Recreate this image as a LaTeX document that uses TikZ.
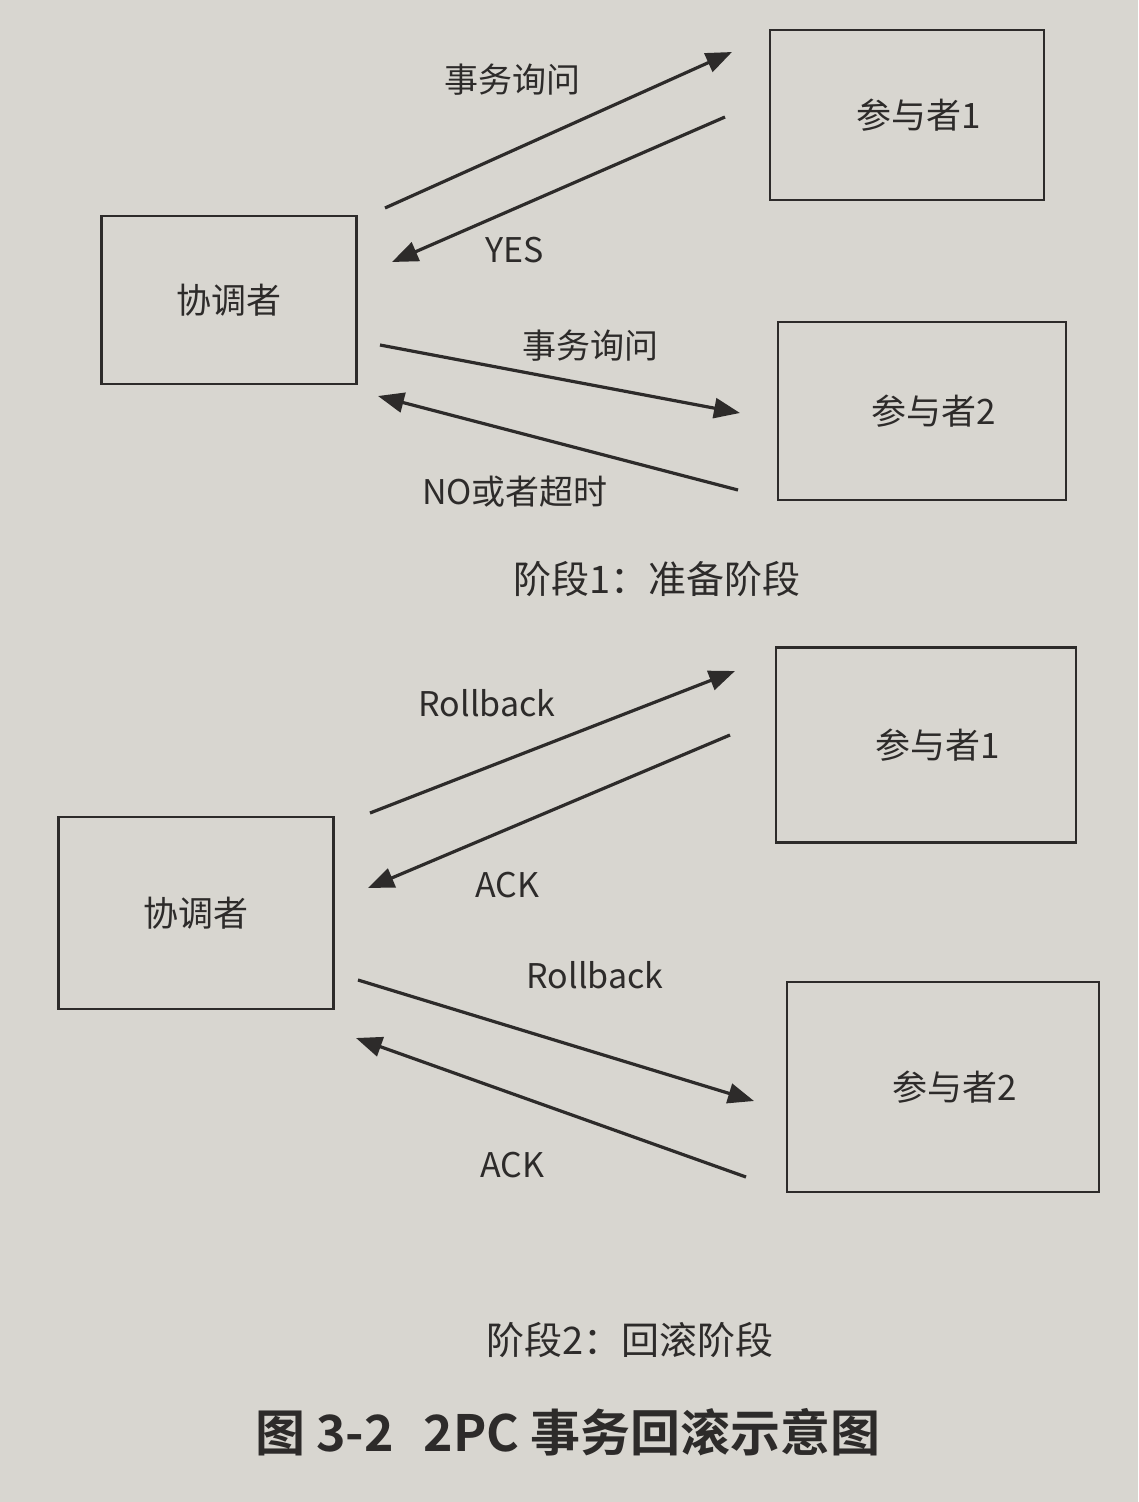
\documentclass[tikz,border=0pt]{standalone}
\usepackage{fontspec}
\setmainfont{Noto Sans CJK SC}
\newfontfamily\cjkbold{Noto Sans CJK SC}[BoldFont={* Bold}]
\usetikzlibrary{arrows.meta}
\definecolor{paper}{RGB}{216,214,208}
\definecolor{ink}{RGB}{45,43,42}
\tikzset{
  party/.style={draw=ink, line width=2.8pt},
  msg/.style={draw=ink, line width=3.2pt, -{Triangle[length=26pt,width=20pt]}},
  lbl/.style={text=ink, font=\fontsize{34}{38}\selectfont, inner sep=0pt},
  boxtext/.style={text=ink, font=\fontsize{35}{40}\selectfont, inner sep=0pt},
  phase/.style={text=ink, font=\fontsize{38}{42}\selectfont, inner sep=0pt},
}
\begin{document}
\begin{tikzpicture}[x=1pt,y=-1pt]
\fill[paper] (0,0) rectangle (1138,1502);
\useasboundingbox (0,0) rectangle (1138,1502);

% ---------- phase 1: prepare ----------
\node[party, minimum width=255pt, minimum height=168pt] (c1) at (229,300) {};
\node[boxtext] at (c1.center) {协调者};
\node[party, minimum width=274pt, minimum height=170pt] (p11) at (907,115) {};
\node[boxtext] at ([xshift=12pt]p11.center) {参与者1};
\node[party, minimum width=288pt, minimum height=178pt] (p12) at (922,411) {};
\node[boxtext] at ([xshift=12pt]p12.center) {参与者2};

\coordinate (a1s) at (385,208);  \coordinate (a1e) at (732,52);
\coordinate (a2s) at (725,117);  \coordinate (a2e) at (392,262);
\coordinate (a3s) at (380,345);  \coordinate (a3e) at (740,413);
\coordinate (a4s) at (738,490);  \coordinate (a4e) at (378,396);
\draw[msg] (a1s) -- (a1e);
\draw[msg] (a2s) -- (a2e);
\draw[msg] (a3s) -- (a3e);
\draw[msg] (a4s) -- (a4e);
\node[lbl] (l1) at (512,80) {事务询问};
\node[lbl] (l2) at (515,250) {YES};
\node[lbl] (l3) at (590,346) {事务询问};
\node[lbl] (l4) at (515,492) {NO或者超时};
\node[phase] (ph1) at (657,579) {阶段1：准备阶段};

% ---------- phase 2: rollback ----------
\node[party, minimum width=275pt, minimum height=192pt] (c2) at (196,913) {};
\node[boxtext] at (c2.center) {协调者};
\node[party, minimum width=300pt, minimum height=195pt] (p21) at (926,745) {};
\node[boxtext] at ([xshift=12pt]p21.center) {参与者1};
\node[party, minimum width=312pt, minimum height=210pt] (p22) at (943,1087) {};
\node[boxtext] at ([xshift=12pt]p22.center) {参与者2};

\coordinate (b1s) at (370,813);  \coordinate (b1e) at (735,671);
\coordinate (b2s) at (730,735);  \coordinate (b2e) at (368,888);
\coordinate (b3s) at (358,980);  \coordinate (b3e) at (754,1101);
\coordinate (b4s) at (746,1177); \coordinate (b4e) at (356,1038);
\draw[msg] (b1s) -- (b1e);
\draw[msg] (b2s) -- (b2e);
\draw[msg] (b3s) -- (b3e);
\draw[msg] (b4s) -- (b4e);
\node[lbl] (m1) at (487,703) {Rollback};
\node[lbl] (m2) at (507,885) {ACK};
\node[lbl] (m3) at (595,975) {Rollback};
\node[lbl] (m4) at (512,1165) {ACK};
\node[phase] (ph2) at (630,1340) {阶段2：回滚阶段};

% ---------- caption ----------
\node[text=ink, inner sep=0pt, font=\cjkbold\bfseries\fontsize{50}{54}\selectfont] (cap) at (568,1432) {图 3-2\hspace{30pt}2PC 事务回滚示意图};
\end{tikzpicture}
\end{document}
